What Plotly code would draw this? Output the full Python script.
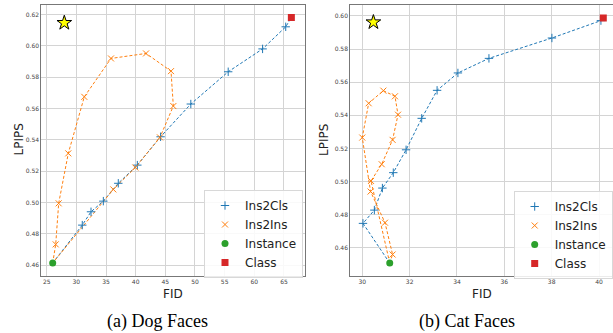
import plotly.graph_objects as go

# ---------------- data ----------------
# (a) Dog Faces
dog_ins2cls_fid = [31.0, 32.47, 34.55, 37.07, 40.28, 44.2, 49.3, 55.6, 61.4, 65.3]
dog_ins2cls_lpips = [0.4855, 0.494, 0.5008, 0.5122, 0.5238, 0.5419, 0.5628, 0.5834, 0.598, 0.6121]
dog_ins2ins_fid = [26.52, 27.02, 28.64, 31.34, 35.84, 41.75, 45.96, 46.35, 44.1, 39.94, 36.23]
dog_ins2ins_lpips = [0.4732, 0.4994, 0.5313, 0.5674, 0.5919, 0.5951, 0.5838, 0.5615, 0.5415, 0.5223, 0.5083]
dog_instance = (26.01, 0.4613)
dog_class = (66.25, 0.618)
dog_star = (27.97, 0.6146)

# (b) Cat Faces
cat_ins2cls_fid = [30.03, 30.51, 30.85, 31.31, 31.85, 32.51, 33.16, 34.04, 35.35, 38.01, 40.08]
cat_ins2cls_lpips = [0.4748, 0.4828, 0.4961, 0.5054, 0.5192, 0.5382, 0.5551, 0.5656, 0.5744, 0.5867, 0.5972]
cat_ins2ins_fid = [31.28, 30.96, 30.35, 30.0, 30.27, 30.89, 31.38, 31.51, 31.28, 30.82, 30.37]
cat_ins2ins_lpips = [0.456, 0.4752, 0.494, 0.5266, 0.5473, 0.5549, 0.5515, 0.5404, 0.5252, 0.5105, 0.5004]
cat_instance = (31.16, 0.4508)
cat_class = (40.18, 0.5988)
cat_star = (30.47, 0.5962)

dog_xticks = [25, 30, 35, 40, 45, 50, 55, 60, 65]
dog_yticks = [0.46, 0.48, 0.50, 0.52, 0.54, 0.56, 0.58, 0.60, 0.62]
cat_xticks = [30, 32, 34, 36, 38, 40]
cat_yticks = [0.46, 0.48, 0.50, 0.52, 0.54, 0.56, 0.58, 0.60]

BLUE = "#1f77b4"
ORANGE = "#ff7f0e"
GREEN = "#2ca02c"
RED = "#d62728"
W, H = 613, 333

fig = go.Figure()


def add_panel(xa, ya, legend, ic_fid, ic_lp, ii_fid, ii_lp, inst, cls, star):
    # dashed connecting lines
    fig.add_trace(go.Scatter(
        x=[inst[0]] + ic_fid + [cls[0]], y=[inst[1]] + ic_lp + [cls[1]],
        mode="lines", line=dict(color=BLUE, width=1, dash="3px,2px"),
        showlegend=False, xaxis=xa, yaxis=ya, hoverinfo="skip"))
    fig.add_trace(go.Scatter(
        x=[inst[0]] + ii_fid + [inst[0]], y=[inst[1]] + ii_lp + [inst[1]],
        mode="lines", line=dict(color=ORANGE, width=1, dash="3px,2px"),
        showlegend=False, xaxis=xa, yaxis=ya, hoverinfo="skip"))
    # markers
    fig.add_trace(go.Scatter(
        x=ic_fid, y=ic_lp, mode="markers", name="Ins2Cls",
        marker=dict(symbol="cross-thin", size=6, color=BLUE, line=dict(width=1, color=BLUE)),
        xaxis=xa, yaxis=ya, legend=legend))
    fig.add_trace(go.Scatter(
        x=ii_fid, y=ii_lp, mode="markers", name="Ins2Ins",
        marker=dict(symbol="x-thin", size=6, color=ORANGE, line=dict(width=1, color=ORANGE)),
        xaxis=xa, yaxis=ya, legend=legend))
    fig.add_trace(go.Scatter(
        x=[inst[0]], y=[inst[1]], mode="markers", name="Instance",
        marker=dict(symbol="circle", size=7, color=GREEN),
        xaxis=xa, yaxis=ya, legend=legend))
    fig.add_trace(go.Scatter(
        x=[cls[0]], y=[cls[1]], mode="markers", name="Class",
        marker=dict(symbol="square", size=7, color=RED),
        xaxis=xa, yaxis=ya, legend=legend))
    fig.add_trace(go.Scatter(
        x=[star[0]], y=[star[1]], mode="markers", showlegend=False,
        marker=dict(symbol="star", size=11, color="#ffff00", line=dict(width=1, color="black")),
        xaxis=xa, yaxis=ya))


add_panel("x", "y", "legend", dog_ins2cls_fid, dog_ins2cls_lpips, dog_ins2ins_fid,
          dog_ins2ins_lpips, dog_instance, dog_class, dog_star)
add_panel("x2", "y2", "legend2", cat_ins2cls_fid, cat_ins2cls_lpips, cat_ins2ins_fid,
          cat_ins2ins_lpips, cat_instance, cat_class, cat_star)

tickfont = dict(family="DejaVu Sans", size=6, color="#444")
axis_common = dict(showgrid=True, gridcolor="#d4d4d4", gridwidth=1, zeroline=False,
                   showline=True, linecolor="#777", linewidth=1, ticks="",
                   tickfont=tickfont)

ydom = [1 - 275.7 / H, 1 - 5.2 / H]

legend_style = dict(xanchor="left", yanchor="top",
                    bgcolor="rgba(255,255,255,0.85)", bordercolor="#d8d8d8", borderwidth=1,
                    font=dict(family="DejaVu Sans", size=12, color="#222"),
                    tracegroupgap=0)

fig.update_layout(
    width=W, height=H,
    margin=dict(l=0, r=0, t=0, b=0),
    paper_bgcolor="white", plot_bgcolor="white",
    xaxis=dict(domain=[41.3 / W, 305 / W], range=[24.09, 68.55], tickvals=dog_xticks,
               mirror=True, anchor="y", **axis_common),
    yaxis=dict(domain=ydom, range=[0.4532, 0.6259], tickvals=dog_yticks,
               tickformat=".2f", mirror=True, anchor="x", **axis_common),
    xaxis2=dict(domain=[350.2 / W, 1.0], range=[29.49, 40.59], tickvals=cat_xticks,
                mirror=True, anchor="y2", **axis_common),
    yaxis2=dict(domain=ydom, range=[0.4432, 0.6065], tickvals=cat_yticks,
                tickformat=".2f", mirror=False, anchor="x2", **axis_common),
    legend=dict(x=204 / W, y=1 - 190 / H, **legend_style),
    legend2=dict(x=513.7 / W, y=1 - 191 / H, **legend_style),
)

label_font = dict(family="DejaVu Sans", size=12, color="#222")
cap_font = dict(family="Liberation Serif", size=18, color="black")
ann = [
    dict(text="FID", x=173 / W, y=1 - 293.5 / H, font=label_font),
    dict(text="FID", x=482 / W, y=1 - 293.5 / H, font=label_font),
    dict(text="LPIPS", x=18.5 / W, y=1 - 140 / H, font=label_font, textangle=-90),
    dict(text="LPIPS", x=324 / W, y=1 - 140 / H, font=label_font, textangle=-90),
    dict(text="(a) Dog Faces", x=157.7 / W, y=1 - 321.7 / H, font=cap_font),
    dict(text="(b) Cat Faces", x=466.7 / W, y=1 - 321.7 / H, font=cap_font),
]
for a in ann:
    fig.add_annotation(xref="paper", yref="paper", xanchor="center", yanchor="middle",
                       showarrow=False, **a)

fig.write_html("out.html", config={"displayModeBar": False},
               post_script="document.body.style.margin='0';document.body.style.overflow='hidden';")
